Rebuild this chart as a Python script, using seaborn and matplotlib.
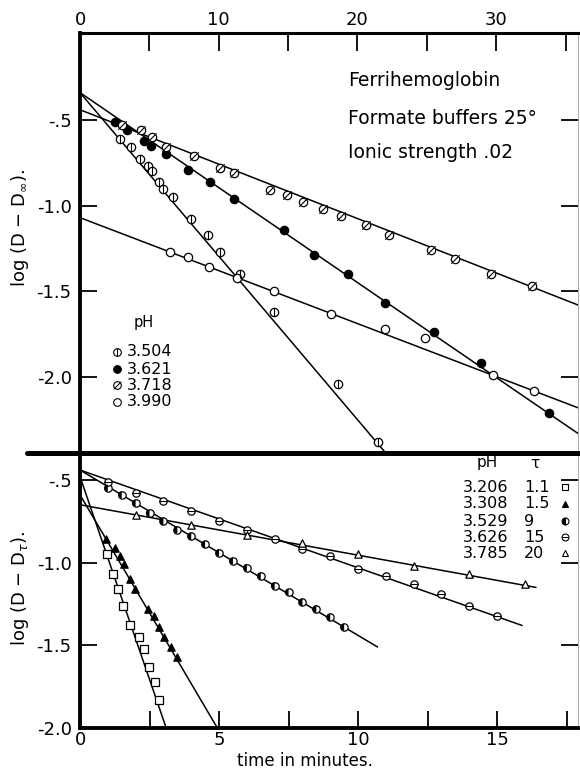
import numpy as np
import seaborn as sns
import matplotlib.pyplot as plt
from matplotlib.lines import Line2D
from matplotlib.markers import MarkerStyle
from matplotlib.path import Path

sns.set_style("ticks")
plt.rcParams['font.family'] = ['DejaVu Sans']
plt.rcParams['text.color'] = 'black'
plt.rcParams['xtick.color'] = 'black'
plt.rcParams['ytick.color'] = 'black'
plt.rcParams['axes.edgecolor'] = 'black'

# ---- upper panel: Ferrihemoglobin, formate buffers (time in minutes, top axis)
ph3504_t = [2.9, 3.7, 4.3, 4.9, 5.2, 5.7, 6.0, 6.7, 8.0, 9.2, 10.1, 11.5, 14.0, 18.6, 21.5]
ph3504_y = [-0.61, -0.66, -0.73, -0.77, -0.80, -0.86, -0.90, -0.95, -1.08, -1.17, -1.27, -1.40, -1.62, -2.04, -2.38]
ph3504_fit_t = [0, 22.0]
ph3504_fit_y = [-0.34, -2.44]

ph3621_t = [2.5, 3.4, 4.6, 5.1, 6.2, 7.8, 9.4, 11.1, 14.7, 16.9, 19.3, 22.0, 25.5, 28.9, 33.8]
ph3621_y = [-0.51, -0.56, -0.62, -0.65, -0.70, -0.79, -0.86, -0.96, -1.14, -1.29, -1.40, -1.57, -1.74, -1.92, -2.21]
ph3621_fit_t = [0, 35.9]
ph3621_fit_y = [-0.34, -2.33]

ph3718_t = [3.0, 4.4, 5.2, 6.2, 8.2, 10.1, 11.1, 13.7, 14.9, 16.1, 17.5, 18.8, 20.6, 22.3, 25.3, 27.0, 29.6, 32.6]
ph3718_y = [-0.53, -0.56, -0.60, -0.66, -0.71, -0.78, -0.81, -0.91, -0.94, -0.98, -1.02, -1.06, -1.11, -1.17, -1.26, -1.31, -1.40, -1.47]
ph3718_fit_t = [0, 35.9]
ph3718_fit_y = [-0.44, -1.58]

ph3990_t = [6.5, 7.8, 9.3, 11.3, 14.0, 18.1, 22.0, 24.9, 29.8, 32.7]
ph3990_y = [-1.27, -1.30, -1.36, -1.42, -1.50, -1.63, -1.72, -1.77, -1.99, -2.08]
ph3990_fit_t = [0, 35.9]
ph3990_fit_y = [-1.07, -2.18]

top_legend_ph = ["3.504", "3.621", "3.718", "3.990"]

# ---- lower panel (time in minutes, bottom axis)
ph3206_t = [0.97, 1.19, 1.37, 1.55, 1.80, 2.12, 2.30, 2.48, 2.70, 2.84]
ph3206_y = [-0.95, -1.07, -1.16, -1.26, -1.38, -1.45, -1.52, -1.63, -1.72, -1.83]
ph3206_fit_t = [0, 3.1]
ph3206_fit_y = [-0.48, -2.0]

ph3308_t = [0.94, 1.26, 1.44, 1.58, 1.80, 1.98, 2.45, 2.66, 2.84, 3.02, 3.27, 3.49]
ph3308_y = [-0.86, -0.91, -0.96, -1.01, -1.10, -1.16, -1.28, -1.32, -1.39, -1.45, -1.51, -1.57]
ph3308_fit_t = [0, 4.94]
ph3308_fit_y = [-0.59, -2.0]

ph3529_t = [1.0, 1.5, 2.0, 2.5, 3.0, 3.5, 4.0, 4.5, 5.0, 5.5, 6.0, 6.5, 7.0, 7.5, 8.0, 8.5, 9.0, 9.5]
ph3529_y = [-0.55, -0.59, -0.64, -0.70, -0.75, -0.80, -0.84, -0.89, -0.94, -0.99, -1.03, -1.08, -1.14, -1.18, -1.24, -1.28, -1.33, -1.39]
ph3529_fit_t = [0, 10.7]
ph3529_fit_y = [-0.44, -1.51]

ph3626_t = [1, 2, 3, 4, 5, 6, 7, 8, 9, 10, 11, 12, 13, 14, 15]
ph3626_y = [-0.51, -0.58, -0.63, -0.69, -0.75, -0.80, -0.86, -0.92, -0.96, -1.04, -1.08, -1.13, -1.19, -1.26, -1.32]
ph3626_fit_t = [0, 15.9]
ph3626_fit_y = [-0.44, -1.38]

ph3785_t = [2, 4, 6, 8, 10, 12, 14, 16]
ph3785_y = [-0.71, -0.77, -0.83, -0.88, -0.95, -1.02, -1.07, -1.13]
ph3785_fit_t = [0, 16.4]
ph3785_fit_y = [-0.65, -1.15]

bottom_legend_ph = ["3.206", "3.308", "3.529", "3.626", "3.785"]
bottom_legend_tau = ["1.1", "1.5", "9", "15", "20"]

top_xticks = [0, 5, 10, 15, 20, 25, 30, 35]
top_xticklabels = ["0", "", "10", "", "20", "", "30", ""]
bottom_xticks = [0, 2.5, 5, 7.5, 10, 12.5, 15, 17.5]
bottom_xticklabels = ["0", "", "5", "", "10", "", "15", ""]
yticks = [-0.5, -1.0, -1.5, -2.0]
yticklabels = ["-.5", "-1.0", "-1.5", "-2.0"]

W, H = 580, 770
fig = plt.figure(figsize=(W / 100, H / 100), dpi=100)


def fx(px):
    return px / W


def fy(py):
    return 1 - py / H


ax1 = fig.add_axes([fx(80), fy(453), fx(578) - fx(80), fy(33) - fy(453)])
ax2 = fig.add_axes([fx(80), fy(728), fx(578) - fx(80), fy(453) - fy(728)])

slash = Path([(-1, -1), (1, 1)], [Path.MOVETO, Path.LINETO])
half_left = MarkerStyle('o', fillstyle='left')


def series(ax, t, y, ft, fyv, marker, face, s, overlay=None, ow=0.8):
    sns.lineplot(x=ft, y=fyv, ax=ax, color='black', lw=1.1, sort=False, estimator=None, zorder=2)
    sns.scatterplot(x=t, y=y, ax=ax, marker=marker, s=s, facecolor=face,
                    edgecolor='black', linewidth=0.9, zorder=3)
    if overlay is not None:
        if overlay is half_left:
            sns.scatterplot(x=t, y=y, ax=ax, marker=overlay, s=s, facecolor='black',
                            edgecolor='none', linewidth=0, zorder=4)
        else:
            sns.scatterplot(x=t, y=y, ax=ax, marker=overlay, s=s, color='black',
                            edgecolor='black', linewidth=ow, zorder=4)


s1 = 36
series(ax1, ph3504_t, ph3504_y, ph3504_fit_t, ph3504_fit_y, 'o', 'white', s1, overlay='|')
series(ax1, ph3621_t, ph3621_y, ph3621_fit_t, ph3621_fit_y, 'o', 'black', s1)
series(ax1, ph3718_t, ph3718_y, ph3718_fit_t, ph3718_fit_y, 'o', 'white', s1, overlay=slash)
series(ax1, ph3990_t, ph3990_y, ph3990_fit_t, ph3990_fit_y, 'o', 'white', s1)

s2 = 28
series(ax2, ph3206_t, ph3206_y, ph3206_fit_t, ph3206_fit_y, 's', 'white', s2)
series(ax2, ph3308_t, ph3308_y, ph3308_fit_t, ph3308_fit_y, '^', 'black', s2)
series(ax2, ph3529_t, ph3529_y, ph3529_fit_t, ph3529_fit_y, 'o', 'white', s2, overlay=half_left)
series(ax2, ph3626_t, ph3626_y, ph3626_fit_t, ph3626_fit_y, 'o', 'white', s2, overlay='_')
series(ax2, ph3785_t, ph3785_y, ph3785_fit_t, ph3785_fit_y, '^', 'white', s2)

ax1.set_xlim(0, 35.9)
ax1.set_ylim(-2.444, 0.008)
ax2.set_xlim(0, 17.91)
ax2.set_ylim(-2.0, -0.337)

for ax in (ax1, ax2):
    ax.set_xlabel("")
    ax.set_ylabel("")
    ax.set_yticks(yticks)
    ax.set_yticklabels(yticklabels)
    ax.tick_params(axis='y', direction='in', left=True, right=True, length=12, width=1.3,
                   labelsize=13, pad=6)
    ax.spines['left'].set_linewidth(2.8)
    ax.spines['right'].set_linewidth(0.5)
    ax.spines['right'].set_color('0.55')

ax1.xaxis.tick_top()
ax1.set_xticks(top_xticks)
ax1.set_xticklabels(top_xticklabels)
ax1.tick_params(axis='x', direction='in', top=True, bottom=False, labeltop=True,
                labelbottom=False, length=13, width=1.3, labelsize=13, pad=3)
ax1.spines['top'].set_linewidth(2.2)
ax1.spines['bottom'].set_visible(False)

ax2.set_xticks(bottom_xticks)
ax2.set_xticklabels(bottom_xticklabels)
ax2.tick_params(axis='x', direction='in', top=False, bottom=True, length=12, width=1.3,
                labelsize=13, pad=2)
ax2.spines['top'].set_visible(False)
ax2.spines['bottom'].set_linewidth(2.8)

# panel divider, runs out to the left of the axes
fig.add_artist(Line2D([fx(27), fx(580)], [fy(453), fy(453)], lw=3.6, color='black',
                      transform=fig.transFigure))

# axis titles
fig.text(fx(20), fy(228), r"log (D $-$ D$_{\infty}$).", rotation=90, ha='center', va='center', fontsize=13)
fig.text(fx(20), fy(588), r"log (D $-$ D$_{\tau}$).", rotation=90, ha='center', va='center', fontsize=13)
fig.text(fx(305), fy(761), "time in minutes.", ha='center', va='center', fontsize=12)

# annotation
for txt, py in zip(["Ferrihemoglobin", "Formate buffers 25°", "Ionic strength .02"], [80, 118, 153]):
    fig.text(fx(348), fy(py), txt, ha='left', va='center', fontsize=13.5)


def legend_marker(px, py, marker, face, ms, overlay=None, fillstyle='full'):
    fig.add_artist(Line2D([fx(px)], [fy(py)], marker=marker, markersize=ms, markerfacecolor=face,
                          markerfacecoloralt='white', fillstyle=fillstyle,
                          markeredgecolor='black', markeredgewidth=0.8, linestyle='none',
                          transform=fig.transFigure))
    if overlay is not None:
        fig.add_artist(Line2D([fx(px)], [fy(py)], marker=overlay, markersize=ms, color='black',
                              markeredgewidth=0.7, linestyle='none', transform=fig.transFigure))


# upper legend
fig.text(fx(144), fy(323), "pH", ha='center', va='center', fontsize=10.5)
top_rows = [352, 369, 385, 402]
top_marks = [('o', 'white', '|'), ('o', 'black', None), ('o', 'white', slash), ('o', 'white', None)]
for lab, py, (m, fc, ov) in zip(top_legend_ph, top_rows, top_marks):
    legend_marker(117, py, m, fc, 5.5, overlay=ov)
    fig.text(fx(127), fy(py), lab, ha='left', va='center', fontsize=11.5)

# lower legend
fig.text(fx(487), fy(462), "pH", ha='center', va='center', fontsize=11)
fig.text(fx(535), fy(463), "τ", ha='center', va='center', fontsize=11)
bot_rows = [487, 504, 521, 537, 553]
bot_marks = [('s', 'white', None, 'full'), ('^', 'black', None, 'full'), ('o', 'black', None, 'left'),
             ('o', 'white', '_', 'full'), ('^', 'white', None, 'full')]
for lab, tau, py, (m, fc, ov, fs) in zip(bottom_legend_ph, bottom_legend_tau, bot_rows, bot_marks):
    fig.text(fx(508), fy(py), lab, ha='right', va='center', fontsize=11.5)
    fig.text(fx(524), fy(py), tau, ha='left', va='center', fontsize=11.5)
    legend_marker(565, py, m, fc, 5, overlay=ov, fillstyle=fs)

fig.savefig("out.png", dpi=100)
